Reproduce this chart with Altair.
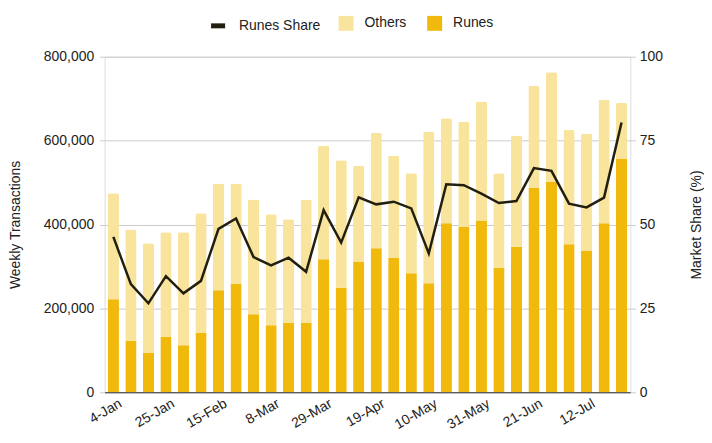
import altair as alt
import pandas as pd

weeks = ["4-Jan", "11-Jan", "18-Jan", "25-Jan", "1-Feb", "8-Feb", "15-Feb", "22-Feb",
         "1-Mar", "8-Mar", "15-Mar", "22-Mar", "29-Mar", "5-Apr", "12-Apr", "19-Apr",
         "26-Apr", "3-May", "10-May", "17-May", "24-May", "31-May", "7-Jun", "14-Jun",
         "21-Jun", "28-Jun", "5-Jul", "12-Jul", "19-Jul", "26-Jul"]
labeled = ["4-Jan", "25-Jan", "15-Feb", "8-Mar", "29-Mar", "19-Apr", "10-May",
           "31-May", "21-Jun", "12-Jul"]
totals = [474500, 388000, 355000, 381700, 381700, 427000, 498000, 498000, 459500, 424500,
          412600, 459500, 588000, 553000, 540000, 618000, 564000, 522000, 621000, 653000,
          645000, 693000, 522000, 612000, 731000, 763000, 626000, 617000, 698000, 689500]
runes = [222000, 123000, 93500, 132000, 112000, 141000, 243000, 258000, 186000, 159500,
         165000, 165000, 317000, 249000, 312000, 343600, 320000, 284000, 260000, 403000,
         394000, 409500, 296000, 346700, 487000, 502000, 353000, 338000, 403000, 556000]
share = [46.3, 32.2, 26.5, 34.6, 29.5, 33.2, 48.7, 51.8, 40.3, 37.8,
         40.1, 35.9, 54.3, 44.6, 58.1, 56.0, 56.8, 54.8, 41.4, 62.0,
         61.7, 59.2, 56.4, 57.0, 66.8, 66.0, 56.2, 55.1, 58.0, 80.4]

others = [t - r for t, r in zip(totals, runes)]

df = pd.DataFrame({"week": weeks, "Runes": runes, "Others": others, "share": share})
df["line"] = "Runes Share"

FONT = "Liberation Sans"
GOLD = "#F0B90B"
LIGHT = "#F8E49C"
DARK = "#231F10"
TXT = "#222222"

x_enc = alt.X(
    "week:N", sort=None, title=None,
    scale=alt.Scale(paddingInner=0.36, paddingOuter=0.18),
    axis=alt.Axis(values=labeled, labelAngle=-30, labelAlign="right", labelBaseline="top",
                  labelFontSize=14, labelColor=TXT, labelPadding=4, labelOffset=4, ticks=False,
                  domainColor="#333", domainWidth=1.2, labelFont=FONT),
)

bars = alt.Chart(df).transform_fold(
    ["Runes", "Others"], as_=["series", "value"]
).transform_calculate(
    ord="datum.series === 'Runes' ? 0 : 1"
).mark_bar(cornerRadiusTopLeft=2, cornerRadiusTopRight=2).encode(
    x=x_enc,
    y=alt.Y("value:Q", stack="zero", title="Weekly Transactions",
            scale=alt.Scale(domain=[0, 800000]),
            axis=alt.Axis(values=[0, 200000, 400000, 600000, 800000], format=",d",
                          grid=True, gridColor="#cccccc", domain=False, tickColor="#cccccc",
                          tickSize=5, labelPadding=6, labelFontSize=14, labelColor=TXT,
                          titleFontSize=14, titleFontWeight="normal", titleColor=TXT,
                          titlePadding=21, labelFont=FONT, titleFont=FONT)),
    color=alt.Color("series:N",
                    scale=alt.Scale(domain=["Others", "Runes"], range=[LIGHT, GOLD]),
                    legend=alt.Legend(title=None, orient="none", direction="horizontal",
                                      legendX=235, legendY=-41, symbolType="square",
                                      symbolSize=225, symbolStrokeWidth=0,
                                      labelFontSize=14, labelColor=TXT, labelFont=FONT,
                                      columnPadding=20, labelOffset=11)),
    order=alt.Order("ord:Q"),
)

line = alt.Chart(df).mark_line(strokeWidth=2.5).encode(
    x=x_enc,
    y=alt.Y("share:Q", title="Market Share (%)",
            scale=alt.Scale(domain=[0, 100]),
            axis=alt.Axis(orient="right", values=[0, 25, 50, 75, 100], grid=False,
                          domain=False, tickColor="#cccccc", tickSize=5, labelPadding=4,
                          labelFontSize=14, labelColor=TXT, titleFontSize=14,
                          titleFontWeight="normal", titleColor=TXT, titlePadding=27,
                          titleAngle=270, titleBaseline="top",
                          labelFont=FONT, titleFont=FONT)),
    color=alt.Color("line:N", scale=alt.Scale(domain=["Runes Share"], range=[DARK]),
                    legend=alt.Legend(title=None, orient="none", legendX=104, legendY=-41,
                                      symbolType="stroke", symbolStrokeWidth=5,
                                      symbolSize=200, labelFontSize=14, labelColor=TXT,
                                      labelFont=FONT, labelOffset=11)),
)

chart = alt.layer(bars, line).resolve_scale(
    y="independent", color="independent"
).properties(
    width=528, height=337,
    padding={"left": 0, "top": 7, "right": 0, "bottom": 0},
).configure_view(stroke=None).configure(font=FONT)

chart.save("out.html", embed_options={"renderer": "svg", "actions": False})
